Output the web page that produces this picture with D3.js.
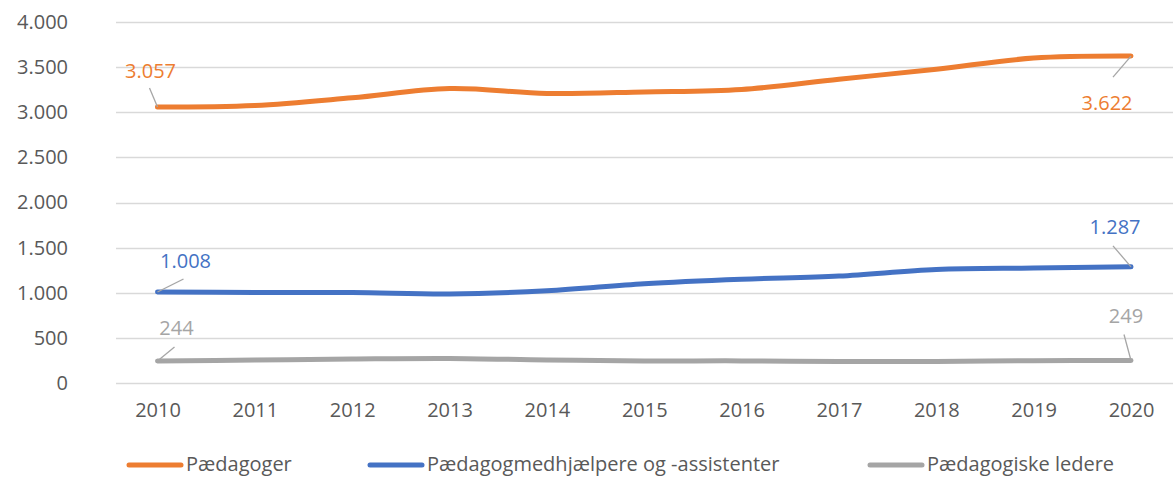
<!DOCTYPE html>
<html>
<head>
<meta charset="utf-8">
<script src="https://cdn.jsdelivr.net/npm/d3@7"></script>
<style>
  html, body { margin: 0; padding: 0; background: #fff; }
  svg { display: block; font-family: "Open Sans", "Noto Sans", sans-serif; }
</style>
</head>
<body>
<svg id="chart" width="1173" height="477"></svg>
<script>
const years = ["2010","2011","2012","2013","2014","2015","2016","2017","2018","2019","2020"];
const paedagoger = [3057, 3075, 3160, 3262, 3208, 3225, 3252, 3366, 3477, 3600, 3622];
const medhjaelpere = [1008, 1003, 1003, 986, 1022, 1100, 1150, 1185, 1258, 1274, 1287];
const ledere = [244, 255, 266, 272, 255, 245, 245, 238, 238, 247, 249];
const yTicks = [0, 500, 1000, 1500, 2000, 2500, 3000, 3500, 4000];
const seriesNames = ["Pædagoger", "Pædagogmedhjælpere og -assistenter", "Pædagogiske ledere"];
const seriesColors = ["#ED7D31", "#4472C4", "#A5A5A5"];

const series = [paedagoger, medhjaelpere, ledere];
const fmt = v => d3.format(",")(v).replace(/,/g, ".");

const svg = d3.select("#chart");
const W = 1173, H = 477;

const x = d3.scalePoint().domain(years).range([157.5, 1131]);
const y = d3.scaleLinear().domain([0, 4000]).range([383, 22]);

// gridlines
svg.append("g").selectAll("line").data(yTicks).join("line")
  .attr("x1", 116).attr("x2", W)
  .attr("y1", d => Math.round(y(d)) + 0.5).attr("y2", d => Math.round(y(d)) + 0.5)
  .attr("stroke", "#D9D9D9").attr("stroke-width", 1.3);

// y axis labels
const yAxis = d3.axisLeft(y).tickValues(yTicks).tickSize(0).tickPadding(0).tickFormat(fmt);
const gy = svg.append("g").attr("transform", "translate(68,0)").call(yAxis);
gy.select(".domain").remove();
gy.selectAll("text").attr("font-size", 20).attr("fill", "#595959")
  .attr("font-family", "'Open Sans', sans-serif");

// x axis labels
const xAxis = d3.axisBottom(x).tickSize(0).tickPadding(0);
const gx = svg.append("g").attr("transform", "translate(0,403)").call(xAxis);
gx.select(".domain").remove();
gx.selectAll("text").attr("font-size", 20).attr("fill", "#595959")
  .attr("font-family", "'Open Sans', sans-serif");

// lines
const line = d3.line()
  .x((d, i) => x(years[i]))
  .y(d => y(d))
  .curve(d3.curveCatmullRom.alpha(0.5));

svg.append("g").selectAll("path").data(series).join("path")
  .attr("d", d => line(d))
  .attr("fill", "none")
  .attr("stroke", (d, i) => seriesColors[i])
  .attr("stroke-width", 5)
  .attr("stroke-linecap", "round")
  .attr("stroke-linejoin", "round");

// data labels with leader lines (first and last points)
const labelStyle = [
  // [series index, point index, label dx, label dy (baseline), leader start dx, dy]
  [0, 0, -7, -29, -8, -19],
  [0, 10, -24, 54, -18, 21],
  [1, 0, 28, -24, 26, -13],
  [1, 10, -16, -33, -18, -21],
  [2, 0, 19, -26, 17, -14],
  [2, 10, -5, -38, -7, -26]
];
const lg = svg.append("g");
labelStyle.forEach(([s, i, ldx, ldy, sx, sy]) => {
  const px = x(years[i]), py = y(series[s][i]);
  lg.append("line")
    .attr("x1", px + sx).attr("y1", py + sy)
    .attr("x2", px).attr("y2", py)
    .attr("stroke", "#A6A6A6").attr("stroke-width", 1.3);
  lg.append("text")
    .attr("x", px + ldx).attr("y", py + ldy)
    .attr("text-anchor", "middle")
    .attr("font-size", 20)
    .attr("fill", seriesColors[s])
    .text(fmt(series[s][i]));
});

// legend
const legendX = [127, 368, 868];
const lgd = svg.append("g");
seriesNames.forEach((name, i) => {
  lgd.append("line")
    .attr("x1", legendX[i] + 2).attr("x2", legendX[i] + 54)
    .attr("y1", 465).attr("y2", 465)
    .attr("stroke", seriesColors[i]).attr("stroke-width", 5)
    .attr("stroke-linecap", "round");
  lgd.append("text")
    .attr("x", legendX[i] + 59).attr("y", 471)
    .attr("font-size", 20).attr("fill", "#595959")
    .text(name);
});
</script>
</body>
</html>
